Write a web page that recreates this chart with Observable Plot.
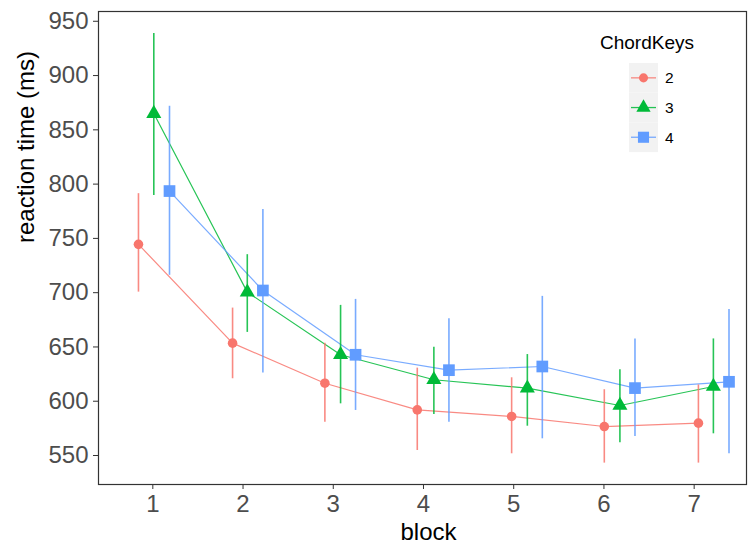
<!DOCTYPE html>
<html><head><meta charset="utf-8">
<script src="https://cdn.jsdelivr.net/npm/d3@7"></script>
<script src="https://cdn.jsdelivr.net/npm/@observablehq/plot@0.6"></script>
<style>
body{margin:0;background:#fff;}
#wrap{position:relative;width:750px;height:545px;font-family:"Liberation Sans",Arial,sans-serif;}
#legend{position:absolute;left:0;top:0;pointer-events:none;}
</style></head><body><div id="wrap"></div>
<script>
// ---- data ----
const blocks = [1, 2, 3, 4, 5, 6, 7];
const chordKeys = ["2", "3", "4"];
const yTicks = [550, 600, 650, 700, 750, 800, 850, 900, 950];
// dodged x positions of each series (block units)
const pos2 = [0.841, 1.884, 2.907, 3.931, 4.977, 6.004, 7.047];
const pos3 = [1.011, 2.047, 3.081, 4.115, 5.151, 6.177, 7.213];
const pos4 = [1.185, 2.220, 3.247, 4.282, 5.317, 6.344, 7.386];
// mean reaction time and error bar limits (ms)
const rt2 = [744.5, 653.5, 616.6, 592.0, 586.0, 576.7, 579.8];
const lo2 = [700.5, 620.7, 580.7, 554.6, 551.6, 543.0, 543.0];
const hi2 = [791.2, 685.8, 653.5, 630.5, 621.6, 610.6, 615.0];
const rt3 = [865.0, 700.5, 642.8, 619.8, 612.0, 596.1, 613.6];
const lo3 = [789.6, 663.4, 597.6, 587.8, 577.0, 561.8, 570.0];
const hi3 = [938.7, 735.0, 688.3, 649.8, 643.0, 629.0, 657.4];
const rt4 = [793.6, 702.0, 642.8, 628.6, 632.0, 612.1, 617.9];
const lo4 = [716.0, 626.0, 591.5, 580.7, 565.4, 567.5, 551.6];
const hi4 = [871.7, 776.7, 693.8, 676.0, 696.6, 657.4, 684.6];

// ---- styles ----
const keyColors = ["#F8766D", "#00BA38", "#619CFF"];
const keySymbols = ["circle", "triangle", "square"];
const keyR = [4.8, 5.6, 6.6];

const series = {
  "2": {pos: pos2, rt: rt2, lo: lo2, hi: hi2},
  "3": {pos: pos3, rt: rt3, lo: lo3, hi: hi3},
  "4": {pos: pos4, rt: rt4, lo: lo4, hi: hi4}
};
const rows = [];
for (const k of chordKeys) {
  const s = series[k];
  blocks.forEach((b, i) => rows.push({key: k, block: b, x: s.pos[i], rt: s.rt[i], lo: s.lo[i], hi: s.hi[i]}));
}

const font = "Liberation Sans, Arial, sans-serif";
const dotMarks = chordKeys.map((k, i) =>
  Plot.dot(rows.filter(d => d.key === k), {x: "x", y: "rt", fill: "key", symbol: "key", r: keyR[i]})
);

const chart = Plot.plot({
  width: 750, height: 545,
  marginLeft: 98, marginRight: 4, marginTop: 11, marginBottom: 61,
  style: {fontFamily: font, background: "#fff", overflow: "visible"},
  x: {domain: [0.398, 7.58]},
  y: {domain: [523.3, 959]},
  color: {domain: chordKeys, range: keyColors},
  symbol: {domain: chordKeys, range: keySymbols},
  marks: [
    Plot.line(rows, {x: "x", y: "rt", z: "key", stroke: "key", strokeWidth: 1.2, strokeOpacity: 0.85}),
    Plot.ruleX(rows, {x: "x", y1: "lo", y2: "hi", stroke: "key", strokeWidth: 1.6, strokeOpacity: 0.85}),
    ...dotMarks,
    Plot.frame({stroke: "#333", strokeWidth: 1.2}),
    Plot.axisX({ticks: blocks, tickFormat: d => String(d), tickSize: 5, tickPadding: 5, fontSize: 24, fill: "#4D4D4D", stroke: "#333", label: null}),
    Plot.axisY({ticks: yTicks, tickSize: 5, tickPadding: 5, fontSize: 24, fill: "#4D4D4D", stroke: "#333", label: null}),
    Plot.text(["block"], {frameAnchor: "bottom", lineAnchor: "bottom", dx: 6, dy: 55, fontSize: 24, fill: "#000"}),
    Plot.text(["reaction time (ms)"], {frameAnchor: "left", rotate: -90, dx: -72, dy: -5, fontSize: 24, fill: "#000"})
  ]
});
document.getElementById("wrap").appendChild(chart);

// ---- legend (inside panel, top right) ----
const lg = d3.select("#wrap").append("svg").attr("id", "legend")
  .attr("width", 750).attr("height", 545)
  .style("font-family", font);
lg.append("text").attr("x", 600).attr("y", 49).attr("font-size", 19).attr("fill", "#000").text("ChordKeys");
const keyTop = 63, keyH = 29.7, keyX = 629, keyW = 29;
chordKeys.forEach((k, i) => {
  const cy = keyTop + keyH * i + keyH / 2;
  lg.append("rect").attr("x", keyX).attr("y", keyTop + keyH * i).attr("width", keyW).attr("height", keyH).attr("fill", "#F2F2F2");
  lg.append("line").attr("x1", keyX + 2).attr("x2", keyX + keyW - 2).attr("y1", cy).attr("y2", cy)
    .attr("stroke", keyColors[i]).attr("stroke-width", 1.3).attr("stroke-opacity", 0.85);
  const sym = {circle: d3.symbolCircle, triangle: d3.symbolTriangle, square: d3.symbolSquare}[keySymbols[i]];
  lg.append("path").attr("transform", `translate(${keyX + keyW / 2},${cy})`)
    .attr("d", d3.symbol(sym, Math.PI * keyR[i] * keyR[i] * 0.9)()).attr("fill", keyColors[i]);
  lg.append("text").attr("x", 665).attr("y", cy).attr("dy", "0.36em").attr("font-size", 15.5).attr("fill", "#000").text(k);
});
</script></body></html>
